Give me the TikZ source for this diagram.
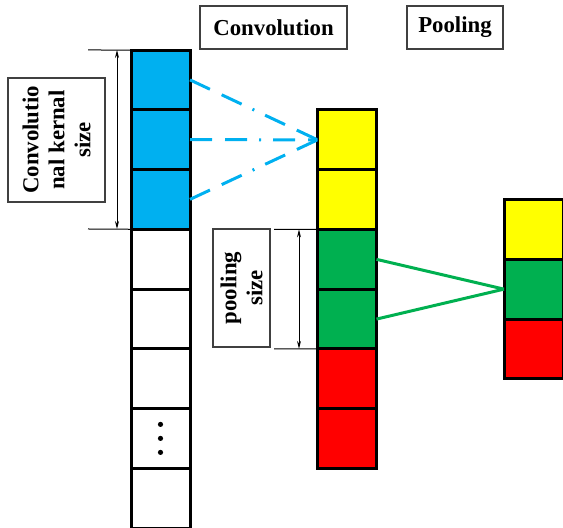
\documentclass[tikz,border=0pt]{standalone}
\usepackage{fontspec}
\setmainfont{Liberation Serif}
\usetikzlibrary{positioning}
\usetikzlibrary{arrows.meta}

\definecolor{convblue}{RGB}{0,176,240}
\definecolor{poolyellow}{RGB}{255,255,0}
\definecolor{poolgreen}{RGB}{0,176,80}
\definecolor{poolred}{RGB}{255,0,0}

\begin{document}
\begin{tikzpicture}[x=0.5pt,y=-0.5pt,
    cell/.style={draw=black,line width=1.5pt,rectangle,minimum width=29.5pt,minimum height=29.875pt,outer sep=0pt,inner sep=0pt},
    title/.style={draw=black!75,line width=0.75pt,rectangle,inner sep=0pt,font=\fontsize{11.4}{13}\selectfont\bfseries},
    sizelabel/.style={title,rotate=90,align=center},
    measure/.style={line width=0.5pt},
    span/.style={line width=0.5pt,{Stealth[length=4pt,width=2pt]}-{Stealth[length=4pt,width=2pt]}},
    kernelline/.style={convblue,line width=1.5pt,dash pattern=on 11pt off 6.5pt on 11pt off 6pt on 1pt off 6pt}
]
\useasboundingbox (0,0) rectangle (563,528);

    % titles
    \node[title,minimum width=73.5pt,minimum height=21.5pt](convtitle)at(273.5,27.5){Convolution};
    \node[title,minimum width=48pt,minimum height=21.5pt](pooltitle)at(455,27.5){Pooling};

    % input column
    \node[cell,fill=convblue](l1)at(160.5,79.9){};
    \node[cell,fill=convblue,below=0pt of l1](l2){};
    \node[cell,fill=convblue,below=0pt of l2](l3){};
    \node[cell,below=0pt of l3](l4){};
    \node[cell,below=0pt of l4](l5){};
    \node[cell,below=0pt of l5](l6){};
    \node[cell,below=0pt of l6](l7){};
    \node[cell,below=0pt of l7](l8){};
    \foreach \d in {-14,0,14}
        \fill ([yshift=\d*0.5pt]l7.center) circle (1.3pt);

    % convolution output
    \node[cell,fill=poolyellow](m1)at(347,139.85){};
    \node[cell,fill=poolyellow,below=0pt of m1](m2){};
    \node[cell,fill=poolgreen,below=0pt of m2](m3){};
    \node[cell,fill=poolgreen,below=0pt of m3](m4){};
    \node[cell,fill=poolred,below=0pt of m4](m5){};
    \node[cell,fill=poolred,below=0pt of m5](m6){};

    % pooling output
    \node[cell,fill=poolyellow](r1)at(533.5,229.4){};
    \node[cell,fill=poolgreen,below=0pt of r1](r2){};
    \node[cell,fill=poolred,below=0pt of r2](r3){};

    % kernel size
    \node[sizelabel,minimum width=62pt,minimum height=48.5pt](kernellabel)at(56.5,140){Convolutio\\nal kernal\\size};
    \coordinate(k1)at(88,50);
    \coordinate(k2)at(88,229);
    \coordinate(ktop)at(117,50);
    \coordinate(kbot)at(117,229);
    \draw[measure](k1)--(l1.north west);
    \draw[measure](k2)--(l3.south west);
    \draw[span](ktop)--(kbot);

    % pooling size
    \node[sizelabel,minimum width=59pt,minimum height=28.5pt](poollabel)at(241.5,288){pooling\\size};
    \coordinate(p1)at(274,229.4);
    \coordinate(p2)at(274,348.9);
    \coordinate(ptop)at(299,229.4);
    \coordinate(pbot)at(299,348.9);
    \draw[measure](p1)--(m3.north west);
    \draw[measure](p2)--(m4.south west);
    \draw[span](ptop)--(pbot);

    \draw[kernelline](l1.east)--(m1.west);
    \draw[kernelline](l2.east)--(m1.west);
    \draw[kernelline](l3.east)--(m1.west);
    \draw[poolgreen,line width=1.5pt](m3.east)--(r2.west);
    \draw[poolgreen,line width=1.5pt](m4.east)--(r2.west);

\end{tikzpicture}
\end{document}
